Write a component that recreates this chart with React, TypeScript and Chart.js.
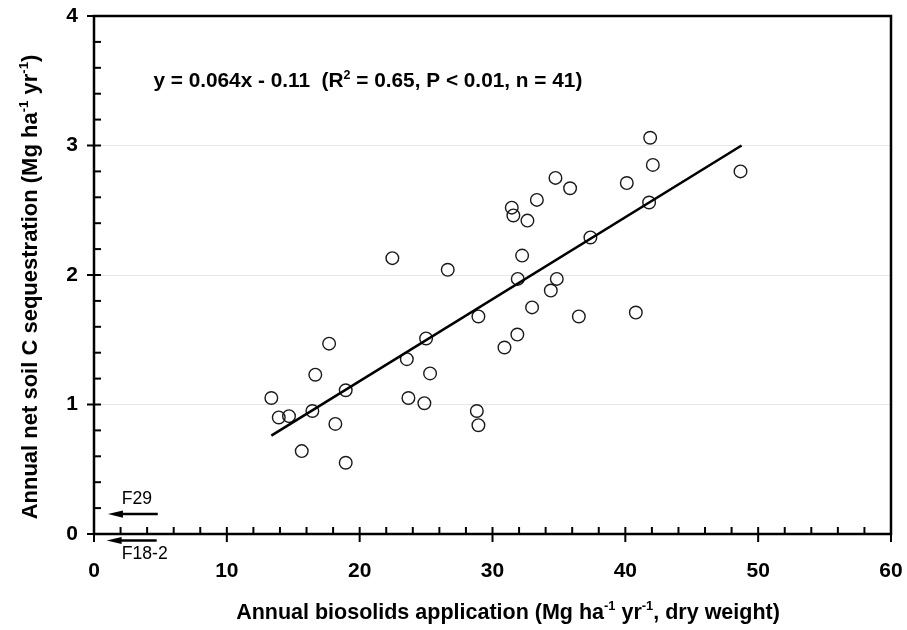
import React, { useEffect, useRef } from 'react';
import { Chart, registerables } from 'chart.js';

Chart.register(...registerables);

// Annual biosolids application (Mg ha-1 yr-1, dry weight)
const biosolidsX = [
  13.35, 13.91, 14.68, 15.64, 16.44, 16.66, 17.7, 18.17, 18.95, 18.95,
  22.46, 23.55, 23.67, 24.87, 25.0, 25.3, 26.63, 28.82, 28.94, 28.94,
  30.9, 31.45, 31.57, 31.87, 31.9, 32.23, 32.63, 32.98, 33.34, 34.39,
  34.84, 34.74, 35.84, 36.5, 37.37, 40.11, 40.79, 41.79, 41.87, 42.07,
  48.67,
];
// Annual net soil C sequestration (Mg ha-1 yr-1)
const sequestrationY = [
  1.05, 0.9, 0.91, 0.64, 0.95, 1.23, 1.47, 0.85, 1.11, 0.55,
  2.13, 1.35, 1.05, 1.01, 1.51, 1.24, 2.04, 0.95, 0.84, 1.68,
  1.44, 2.52, 2.46, 1.54, 1.97, 2.15, 2.42, 1.75, 2.58, 1.88,
  1.97, 2.75, 2.67, 1.68, 2.29, 2.71, 1.71, 2.56, 3.06, 2.85,
  2.8,
];
// Regression line end points
const fitX = [13.35, 48.75];
const fitY = [0.76, 3.0];

const xTickLabels = ['0', '10', '20', '30', '40', '50', '60'];
const yTickLabels = ['0', '1', '2', '3', '4'];

const equationParts = ['y = 0.064x - 0.11  (R', '2', ' = 0.65, P < 0.01, n = 41)'];
const xTitleParts = ['Annual biosolids application (Mg ha', '-1', ' yr', '-1', ', dry weight)'];
const yTitleParts = ['Annual net soil C sequestration (Mg ha', '-1', ' yr', '-1', ')'];

const arrowLabels = ['F29', 'F18-2'];
const arrowY = [0.154, -0.05];
const arrowTail = [4.8, 4.72];
const arrowHead = [1.05, 0.95];

const FONT = '"Liberation Sans", Arial, Helvetica, sans-serif';

function drawRich(
  ctx: CanvasRenderingContext2D,
  parts: string[],
  x: number,
  y: number,
  size: number,
  align: 'left' | 'center',
) {
  const isSup = (p: string) => p === '-1' || p === '2';
  let total = 0;
  for (const p of parts) {
    ctx.font = `bold ${isSup(p) ? size * 0.6 : size}px ${FONT}`;
    total += ctx.measureText(p).width;
  }
  let cx = align === 'center' ? x - total / 2 : x;
  ctx.textAlign = 'left';
  ctx.textBaseline = 'alphabetic';
  for (const p of parts) {
    const sup = isSup(p);
    ctx.font = `bold ${sup ? size * 0.6 : size}px ${FONT}`;
    ctx.fillText(p, cx, sup ? y - size * 0.42 : y);
    cx += ctx.measureText(p).width;
  }
}

const decorPlugin = {
  id: 'decor',
  afterDraw(chart: any) {
    const ctx: CanvasRenderingContext2D = chart.ctx;
    const { left, right, top, bottom } = chart.chartArea;
    const xs = chart.scales.x;
    const ys = chart.scales.y;
    ctx.save();
    ctx.strokeStyle = '#000';
    ctx.fillStyle = '#000';

    // frame
    ctx.lineWidth = 2.5;
    ctx.strokeRect(left, top, right - left, bottom - top);

    // y ticks
    ctx.lineWidth = 2;
    for (let i = 0; i <= 20; i++) {
      const v = i * 0.2;
      const py = ys.getPixelForValue(v);
      ctx.beginPath();
      if (i % 5 === 0) {
        ctx.moveTo(left - 7, py);
        ctx.lineTo(left + 7, py);
      } else {
        ctx.moveTo(left, py);
        ctx.lineTo(left + 7, py);
      }
      ctx.stroke();
    }
    // x ticks
    for (let i = 0; i <= 30; i++) {
      const v = i * 2;
      const px = xs.getPixelForValue(v);
      ctx.beginPath();
      if (i % 5 === 0) {
        ctx.moveTo(px, bottom - 7);
        ctx.lineTo(px, bottom + 8);
      } else {
        ctx.moveTo(px, bottom - 7);
        ctx.lineTo(px, bottom);
      }
      ctx.stroke();
    }

    // arrows
    for (let i = 0; i < arrowLabels.length; i++) {
      const py = ys.getPixelForValue(arrowY[i]);
      const x1 = xs.getPixelForValue(arrowTail[i]);
      const x2 = xs.getPixelForValue(arrowHead[i]);
      ctx.lineWidth = 2.5;
      ctx.beginPath();
      ctx.moveTo(x1, py);
      ctx.lineTo(x2 + 10, py);
      ctx.stroke();
      ctx.beginPath();
      ctx.moveTo(x2, py);
      ctx.lineTo(x2 + 15, py - 3.6);
      ctx.lineTo(x2 + 15, py + 3.6);
      ctx.closePath();
      ctx.fill();
      ctx.font = `17.6px ${FONT}`;
      ctx.textAlign = 'left';
      ctx.textBaseline = 'alphabetic';
      const lx = xs.getPixelForValue(2.09);
      ctx.fillText(arrowLabels[i], lx, i === 0 ? py - 10.5 : py + 19);
    }

    // equation
    drawRich(ctx, equationParts, xs.getPixelForValue(4.47), ys.getPixelForValue(3.448), 20.8, 'left');

    // axis titles
    drawRich(ctx, xTitleParts, 508, 619, 21.5, 'center');
    ctx.save();
    ctx.translate(37, 287);
    ctx.rotate(-Math.PI / 2);
    drawRich(ctx, yTitleParts, 0, 0, 22, 'center');
    ctx.restore();

    ctx.restore();
  },
};

export default function App() {
  const ref = useRef<HTMLCanvasElement | null>(null);

  useEffect(() => {
    document.body.style.margin = '0';
    if (!ref.current) return;
    const points = biosolidsX.map((x, i) => ({ x, y: sequestrationY[i] }));
    const fit = fitX.map((x, i) => ({ x, y: fitY[i] }));
    const chart = new Chart(ref.current, {
      type: 'scatter',
      data: {
        datasets: [
          {
            type: 'line',
            data: fit,
            borderColor: '#000',
            borderWidth: 2.6,
            pointRadius: 0,
            fill: false,
          } as any,
          {
            type: 'scatter',
            data: points,
            pointStyle: 'circle',
            pointRadius: 6.3,
            borderWidth: 1.4,
            borderColor: '#1a1a1a',
            backgroundColor: 'rgba(255,255,255,0)',
          },
        ],
      },
      options: {
        responsive: false,
        animation: false,
        layout: { padding: { left: 0, right: 16, top: 16, bottom: 0 } },
        plugins: {
          legend: { display: false },
          tooltip: { enabled: false },
        },
        scales: {
          x: {
            type: 'linear',
            min: 0,
            max: 60,
            afterFit: (s: any) => {
              s.height = 96;
              s.paddingLeft = 0;
              s.paddingRight = 0;
            },
            ticks: {
              stepSize: 10,
              padding: 17,
              color: '#000',
              font: { family: FONT, size: 21, weight: 'bold' },
              callback: (v: any) => xTickLabels[Math.round(Number(v) / 10)] ?? '',
            },
            grid: { display: false },
            border: { display: false },
          },
          y: {
            type: 'linear',
            min: 0,
            max: 4,
            afterFit: (s: any) => {
              s.width = 94;
              s.paddingTop = 0;
              s.paddingBottom = 0;
            },
            ticks: {
              stepSize: 1,
              padding: 16,
              color: '#000',
              font: { family: FONT, size: 21, weight: 'bold' },
              callback: (v: any) => yTickLabels[Math.round(Number(v))] ?? '',
            },
            grid: {
              drawTicks: false,
              color: (c: any) =>
                c.tick && c.tick.value > 0 && c.tick.value < 4 ? '#e6e6e6' : 'rgba(0,0,0,0)',
              lineWidth: 1,
            },
            border: { display: false },
          },
        },
      },
      plugins: [decorPlugin],
    });
    return () => chart.destroy();
  }, []);

  return (
    <div style={{ width: 907, height: 630 }}>
      <canvas ref={ref} width={907} height={630} style={{ display: 'block' }} />
    </div>
  );
}
